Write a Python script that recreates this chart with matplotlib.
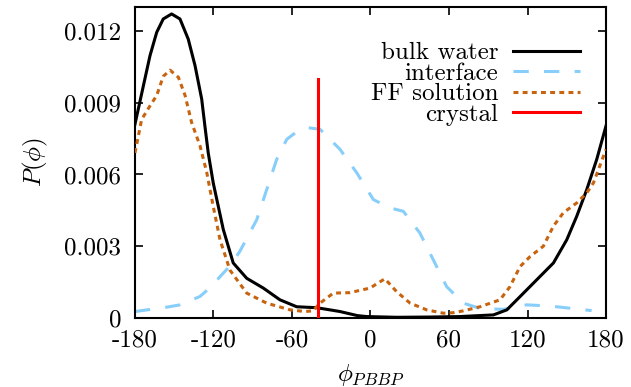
import matplotlib

matplotlib.use("Agg")
import matplotlib.pyplot as plt

plt.rcParams["font.family"] = ["cmr10", "DejaVu Serif"]
plt.rcParams["mathtext.fontset"] = "cm"
plt.rcParams["axes.unicode_minus"] = False

# bulk water (solid black)
bulk_x = [-180, -173.6, -168.5, -163.4, -158.4, -152, -145.6, -139.3, -134.1, -129,
          -126.5, -124, -120.2, -112.5, -104.9, -94.6, -81.9, -69.2, -56.4, -41.1, -31,
          -23.3, -10, -3, 20, 45, 68.4, 94, 104.2, 114.4, 127.1, 139.8, 150, 157.6,
          165.3, 172.9, 180]
bulk_y = [0.0081, 0.0097, 0.01097, 0.01194, 0.0125, 0.01271, 0.0125, 0.01166, 0.01055,
          0.00915, 0.0080, 0.0069, 0.00565, 0.0037, 0.0023, 0.00166, 0.00125, 0.00076,
          0.00047, 0.00043, 0.00034, 0.00027, 0.0001, 0.00006, 0.00003, 0.00004,
          0.00006, 0.00013, 0.00034, 0.0009, 0.0016, 0.0023, 0.00327, 0.00425, 0.00537,
          0.00663, 0.00803]

# interface (dashed light blue)
iface_x = [-180, -156, -145.6, -130.3, -122, -115, -107, -99.7, -87, -79.3, -71.7, -64,
           -56, -48.8, -38.6, -23.3, -10.5, 2.2, 15, 25.1, 37.8, 48, 58.2, 71, 83.7,
           101.5, 119.4, 137.2, 169]
iface_y = [0.00027, 0.00045, 0.00055, 0.0009, 0.0013, 0.00173, 0.0022, 0.0028, 0.0041,
           0.00537, 0.00663, 0.00747, 0.0078, 0.00796, 0.00789, 0.00705, 0.00607,
           0.00495, 0.0046, 0.00446, 0.00355, 0.00243, 0.00131, 0.00062, 0.0004,
           0.00036, 0.00055, 0.0005, 0.00031]

# FF solution (dotted orange)
ff_x = [-180, -174.9, -168.5, -163.4, -158.4, -153.2, -146.8, -141.7, -136.7, -130.3,
        -125.2, -120.2, -115, -107.4, -94.6, -79.3, -61.5, -50, -44, -38.6, -28.4, -15.7,
        -0.4, 11, 20, 30.3, 43, 55.7, 63, 71, 83.7, 99, 106.6, 114.3, 122, 132.1, 139.8,
        147.4, 157.6, 165.3, 170.4, 180]
ff_y = [0.0069, 0.0083, 0.00887, 0.0093, 0.0101, 0.01036, 0.01006, 0.0093, 0.00817,
        0.0072, 0.0061, 0.00467, 0.00327, 0.002, 0.00104, 0.00062, 0.00034, 0.00027,
        0.0003, 0.00062, 0.00104, 0.00106, 0.00125, 0.00164, 0.0011, 0.00062, 0.00034,
        0.0002, 0.00022, 0.0003, 0.00047, 0.00076, 0.00131, 0.00215, 0.00257, 0.003,
        0.00384, 0.0044, 0.00481, 0.00523, 0.00565, 0.00705]

# crystal (vertical red line)
crystal_x = [-40, -40]
crystal_y = [0, 0.010]

xticks = [-180, -120, -60, 0, 60, 120, 180]
yticks = [0, 0.003, 0.006, 0.009, 0.012]
yticklabels = ["0", "0.003", "0.006", "0.009", "0.012"]

fig = plt.figure(figsize=(6.31, 3.87), dpi=100)
ax = fig.add_axes([0.2139, 0.1783, 0.7465, 0.8036])

lw = 2.2
ax.plot(bulk_x, bulk_y, color="black", lw=lw, label="bulk water", zorder=3)
ax.plot(iface_x, iface_y, color="#87cefa", lw=lw, dashes=(5, 5), label="interface", zorder=2)
ax.plot(ff_x, ff_y, color="#c8640f", lw=lw, dashes=(1.6, 1.4), label="FF solution", zorder=4)
ax.plot(crystal_x, crystal_y, color="#ff0000", lw=lw, label="crystal", zorder=5)

ax.set_xlim(-180, 180)
ax.set_ylim(0, 0.013)
ax.set_xticks(xticks)
ax.set_xticklabels([str(v) for v in xticks])
ax.set_yticks(yticks)
ax.set_yticklabels(yticklabels)
ax.tick_params(direction="in", length=6, width=1.2, top=True, right=True,
               labelsize=18)
ax.tick_params(axis="x", pad=8)
ax.tick_params(axis="y", pad=10)
for s in ax.spines.values():
    s.set_linewidth(1.5)

ax.set_xlabel(r"$\phi_{PBBP}$", fontsize=18, labelpad=8)
ax.set_ylabel(r"$P(\phi)$", fontsize=18, labelpad=10)

leg = ax.legend(loc="upper right", bbox_to_anchor=(0.945, 0.888), frameon=False,
                markerfirst=False, fontsize=18, handlelength=2.68, handletextpad=0.6,
                labelspacing=-0.08, borderaxespad=0.0, borderpad=0.0)
for t in leg.get_texts():
    t.set_ha("right")

fig.savefig("out.png", dpi=100)
